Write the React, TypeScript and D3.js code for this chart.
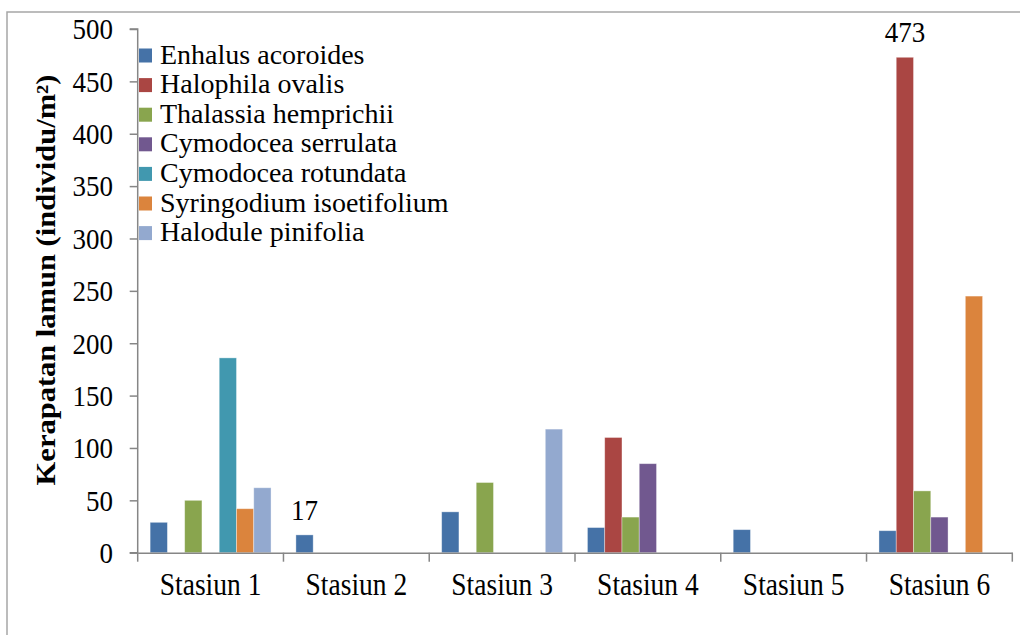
import { useEffect, useRef } from 'react'
import * as d3 from 'd3'

const stations = ['Stasiun 1', 'Stasiun 2', 'Stasiun 3', 'Stasiun 4', 'Stasiun 5', 'Stasiun 6']
const species = [
  'Enhalus acoroides',
  'Halophila ovalis',
  'Thalassia hemprichii',
  'Cymodocea serrulata',
  'Cymodocea rotundata',
  'Syringodium isoetifolium',
  'Halodule pinifolia',
]
const colors = ['#4572A7', '#AA4643', '#89A54E', '#71588F', '#4198AF', '#DB843D', '#93A9CF']

// density per station, one array per species
const enhalus = [29, 17, 39, 24, 22, 21]
const halophila = [0, 0, 0, 110, 0, 473]
const thalassia = [50, 0, 67, 34, 0, 59]
const serrulata = [0, 0, 0, 85, 0, 34]
const rotundata = [186, 0, 0, 0, 0, 0]
const syringodium = [42, 0, 0, 0, 0, 245]
const halodule = [62, 0, 118, 0, 0, 0]
const seriesValues = [enhalus, halophila, thalassia, serrulata, rotundata, syringodium, halodule]

const yTicks = [0, 50, 100, 150, 200, 250, 300, 350, 400, 450, 500]
// which bars carry a value label
const labelled = [
  { station: 1, series: 0 },
  { station: 5, series: 1 },
]

const W = 1020
const H = 635
const FONT = '"Liberation Serif", "Times New Roman", serif'
const SY = 1.12 // the source picture is a bit stretched vertically

export default function App() {
  const ref = useRef<SVGSVGElement>(null)

  useEffect(() => {
    const el = ref.current
    if (!el) return
    const svg = d3.select(el)
    svg.selectAll('*').remove()

    const left = 137.7
    const right = 1012.3
    const top = 29
    const bottom = 552.7

    const x0 = d3.scaleBand().domain(stations).range([left, right]).padding(0)
    const x1 = d3
      .scaleBand()
      .domain(species)
      .range([0, x0.bandwidth()])
      .paddingInner(0)
      .paddingOuter(0.72)
    const y = d3.scaleLinear().domain([0, 500]).range([bottom, top])

    // outer frame
    svg
      .append('rect')
      .attr('x', 7)
      .attr('y', 12)
      .attr('width', W + 20)
      .attr('height', H + 20)
      .attr('fill', '#fff')
      .attr('stroke', '#a6a6a6')
      .attr('stroke-width', 1.5)

    // bars
    const rows = stations.flatMap((s, si) =>
      species.map((sp, k) => ({ s, sp, k, v: seriesValues[k][si] }))
    )
    svg
      .append('g')
      .selectAll('rect')
      .data(rows.filter((d) => d.v > 0))
      .join('rect')
      .attr('x', (d) => (x0(d.s) || 0) + (x1(d.sp) || 0))
      .attr('width', x1.bandwidth())
      .attr('y', (d) => y(d.v))
      .attr('height', (d) => y(0) - y(d.v))
      .attr('fill', (d) => colors[d.k])
      .attr('stroke', '#fff')
      .attr('stroke-opacity', 0.45)
      .attr('stroke-width', 0.8)

    // y axis
    const ya = svg.append('g').attr('transform', `translate(${left},0)`)
    ya.call(d3.axisLeft(y).tickValues(yTicks).tickSize(8).tickFormat(() => ''))
    ya.selectAll('path, line').attr('stroke', '#868686').attr('stroke-width', 1.5)
    ya.select('.domain').attr('d', `M-8,${top}H0V${bottom}H-8`)

    svg
      .append('g')
      .selectAll('text')
      .data(yTicks)
      .join('text')
      .attr('transform', (d) => `translate(113,${y(d)}) scale(1,${SY})`)
      .attr('dy', '0.34em')
      .attr('text-anchor', 'end')
      .style('font-family', FONT)
      .style('font-size', '27px')
      .attr('fill', '#000')
      .text((d) => d)

    // x axis
    const xa = svg.append('g').attr('transform', `translate(0,${bottom})`)
    xa.call(d3.axisBottom(x0).tickSize(0).tickFormat(() => ''))
    xa.select('.domain').attr('stroke', '#868686').attr('stroke-width', 1.5)
    xa.selectAll('.tick').remove()
    xa.selectAll('line.sep')
      .data(d3.range(stations.length + 1))
      .join('line')
      .attr('class', 'sep')
      .attr('x1', (i) => left + i * x0.step())
      .attr('x2', (i) => left + i * x0.step())
      .attr('y1', 0)
      .attr('y2', 9)
      .attr('stroke', '#868686')
      .attr('stroke-width', 1.5)

    svg
      .append('g')
      .selectAll('text')
      .data(stations)
      .join('text')
      .attr('transform', (d) => `translate(${(x0(d) || 0) + x0.bandwidth() / 2},595) scale(1,${SY})`)
      .attr('text-anchor', 'middle')
      .style('font-family', FONT)
      .style('font-size', '27.5px')
      .attr('fill', '#000')
      .text((d) => d)

    // value labels
    svg
      .append('g')
      .selectAll('text')
      .data(labelled)
      .join('text')
      .attr('transform', (d) => {
        const v = seriesValues[d.series][d.station]
        const cx = (x0(stations[d.station]) || 0) + (x1(species[d.series]) || 0) + x1.bandwidth() / 2
        return `translate(${cx},${y(v) - 15}) scale(1,${SY})`
      })
      .attr('text-anchor', 'middle')
      .style('font-family', FONT)
      .style('font-size', '27px')
      .attr('fill', '#000')
      .text((d) => seriesValues[d.series][d.station])

    // legend
    const lg = svg
      .append('g')
      .selectAll('g')
      .data(species)
      .join('g')
      .attr('transform', (_, i) => `translate(0,${63.5 + i * 29.6})`)
    lg.append('rect')
      .attr('x', 139)
      .attr('y', -15)
      .attr('width', 13)
      .attr('height', 14)
      .attr('fill', (_, i) => colors[i])
    lg.append('text')
      .attr('x', 160)
      .attr('y', 0)
      .style('font-family', FONT)
      .style('font-size', '28px')
      .attr('fill', '#000')
      .text((d) => d)

    // y title
    svg
      .append('text')
      .attr('transform', `translate(46,280) scale(1,1.13) rotate(-90)`)
      .attr('dy', '0.35em')
      .attr('text-anchor', 'middle')
      .style('font-family', FONT)
      .style('font-size', '27px')
      .style('font-weight', '700')
      .attr('fill', '#000')
      .text('Kerapatan lamun (individu/m²)')
  }, [])

  return (
    <svg
      ref={ref}
      width={W}
      height={H}
      viewBox={`0 0 ${W} ${H}`}
      style={{ position: 'absolute', left: 0, top: 0, background: '#fff' }}
    />
  )
}
